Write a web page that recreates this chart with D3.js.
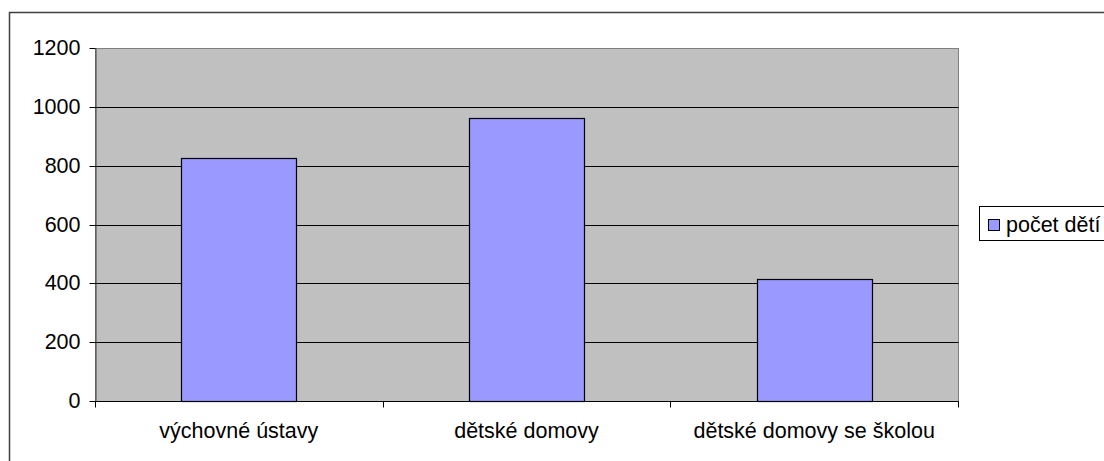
<!DOCTYPE html>
<html>
<head>
<meta charset="utf-8">
<script src="https://cdn.jsdelivr.net/npm/d3@7"></script>
<style>
html,body{margin:0;padding:0;background:#fff;}
svg{display:block;}
text{font-family:"Liberation Sans",Arial,sans-serif;fill:#000;}
</style>
</head>
<body>
<svg id="chart" width="1104" height="461"></svg>
<script>
const categories = ["výchovné ústavy", "dětské domovy", "dětské domovy se školou"];
const values = [825, 962, 414];
const yTicks = [0, 200, 400, 600, 800, 1000, 1200];
const seriesName = "počet dětí";

const svg = d3.select("#chart");
const W = 1104, H = 461;
const FS = 21.5;
const plot = {left: 95, right: 958, top: 48, bottom: 401};
const px = v => Math.round(v) + 0.5;

// outer chart border
svg.append("rect").attr("x", 9.5).attr("y", 12.5).attr("width", W).attr("height", H)
  .attr("fill", "#fff").attr("stroke", "#404040").attr("stroke-width", 1.5);

const x = d3.scaleBand().domain(categories).range([plot.left, plot.right])
  .paddingInner(0.6).paddingOuter(0.3);
const y = d3.scaleLinear().domain([0, 1200]).range([plot.bottom, plot.top]);

// plot area
svg.append("rect").attr("x", plot.left + 0.5).attr("y", px(y(1200)))
  .attr("width", plot.right - plot.left).attr("height", px(y(0)) - px(y(1200)))
  .attr("fill", "#C0C0C0").attr("stroke", "#808080").attr("stroke-width", 1);

// gridlines
svg.append("g").selectAll("line").data(yTicks.filter(t => t > 0 && t < 1200)).join("line")
  .attr("x1", plot.left).attr("x2", plot.right + 0.5)
  .attr("y1", d => px(y(d))).attr("y2", d => px(y(d)))
  .attr("stroke", "#000").attr("stroke-width", 1);

// bars
svg.append("g").selectAll("rect").data(values).join("rect")
  .attr("x", (d, i) => px(x(categories[i])))
  .attr("y", d => px(y(d)))
  .attr("width", Math.round(x.bandwidth()))
  .attr("height", d => px(y(0)) - px(y(d)))
  .attr("fill", "#9999FF").attr("stroke", "#000").attr("stroke-width", 1.2);

// y axis
const yAxis = d3.axisLeft(y).tickValues(yTicks).tickFormat(d3.format("d"))
  .tickSize(6).tickPadding(9).tickSizeOuter(0);
const ya = svg.append("g").attr("transform", `translate(${plot.left + 0.5},0)`).call(yAxis);
ya.select(".domain").attr("stroke", "#404040");
ya.selectAll(".tick").attr("transform", d => `translate(0,${px(y(d))})`);
ya.selectAll(".tick line").attr("stroke", "#000");
ya.selectAll(".tick text").attr("font-size", FS).attr("font-family", "Liberation Sans, Arial, sans-serif").attr("fill", "#000");

// x axis
const xAxis = d3.axisBottom(x).tickSize(0).tickSizeOuter(0).tickPadding(21);
const xa = svg.append("g").attr("transform", `translate(0,${px(y(0))})`).call(xAxis);
xa.select(".domain").attr("stroke", "#000").attr("d", `M${plot.left},0H${plot.right + 0.5}`);
xa.selectAll(".tick text").attr("font-size", FS).attr("font-family", "Liberation Sans, Arial, sans-serif").attr("fill", "#000");
// category separator ticks
const sepPos = [plot.left, plot.left + x.step(), plot.left + 2 * x.step(), plot.right];
xa.append("g").selectAll("line").data(sepPos).join("line")
  .attr("x1", d => px(d)).attr("x2", d => px(d)).attr("y1", 0).attr("y2", 6)
  .attr("stroke", "#000");

// legend
const lg = svg.append("g");
lg.append("rect").attr("x", 979.5).attr("y", 206.5).attr("width", 200).attr("height", 34)
  .attr("fill", "#fff").attr("stroke", "#000").attr("stroke-width", 1);
lg.append("rect").attr("x", 988.5).attr("y", 219.5).attr("width", 11).attr("height", 11)
  .attr("fill", "#9999FF").attr("stroke", "#000").attr("stroke-width", 1);
lg.append("text").attr("x", 1006).attr("y", 232).attr("font-size", FS).text(seriesName);
</script>
</body>
</html>
